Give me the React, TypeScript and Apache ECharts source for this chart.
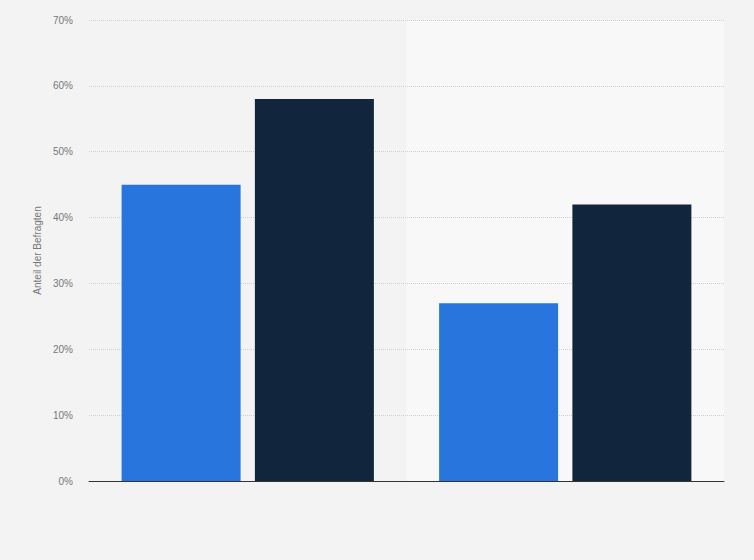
import React, { useEffect, useRef } from "react";
import * as echarts from "echarts";

const categories = ["Gruppe A", "Gruppe B"];
const seriesA = [45, 27];
const seriesB = [58, 42];
const yTicks = [0, 10, 20, 30, 40, 50, 60, 70];

export default function App() {
  const ref = useRef<HTMLDivElement>(null);
  useEffect(() => {
    if (!ref.current) return;
    const chart = echarts.init(ref.current, null, { renderer: "svg" });
    chart.setOption({
      animation: false,
      backgroundColor: "#f3f3f3",
      textStyle: { fontFamily: "Liberation Sans, Arial, sans-serif" },
      grid: { left: 89, right: 30, top: 20, bottom: 79 },
      xAxis: {
        type: "category",
        data: categories,
        z: 0,
        axisLine: { show: true, lineStyle: { color: "#333", width: 1 } },
        axisTick: { show: false },
        axisLabel: { show: false },
        splitArea: { show: true, areaStyle: { color: ["rgba(0,0,0,0)", "#f8f8f8"] } },
      },
      yAxis: {
        type: "value",
        z: 1,
        min: yTicks[0],
        max: yTicks[yTicks.length - 1],
        interval: 10,
        name: "Anteil der Befragten",
        nameLocation: "middle",
        nameGap: 44,
        nameTextStyle: { color: "#777", fontSize: 10 },
        axisLine: { show: false },
        axisTick: { show: false },
        axisLabel: { color: "#777", fontSize: 10, margin: 16, formatter: "{value}%" },
        splitLine: {
          showMinLine: false,
          lineStyle: { color: "#cfcfcf", type: [1, 1], width: 1 },
        },
      },
      series: [
        {
          type: "bar",
          z: 3,
          data: seriesA,
          barWidth: 119,
          barGap: "12%",
          itemStyle: { color: "#2876dd" },
        },
        {
          type: "bar",
          z: 3,
          data: seriesB,
          barWidth: 119,
          barGap: "12%",
          itemStyle: { color: "#11263d" },
        },
      ],
    });
    return () => chart.dispose();
  }, []);
  return (
    <div
      ref={ref}
      style={{ position: "fixed", left: 0, top: 0, width: 754, height: 560 }}
    />
  );
}
